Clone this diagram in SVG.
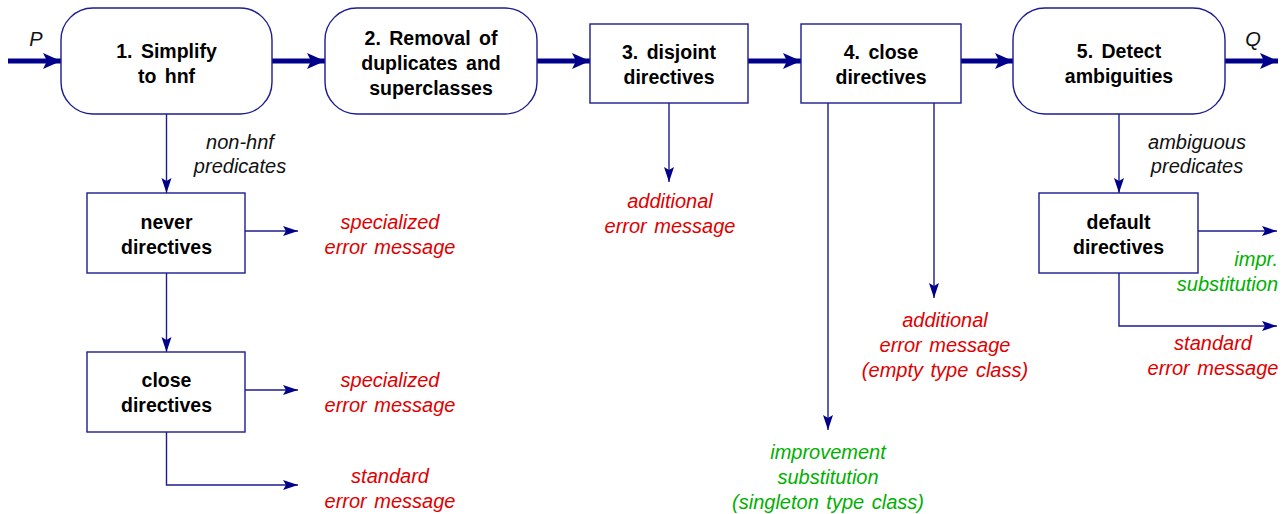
<svg xmlns="http://www.w3.org/2000/svg" width="1285" height="514" viewBox="0 0 1285 514">
<style>
.node{fill:#fff;stroke:#1c1c90;stroke-width:1.4}
.t{font-family:"Liberation Sans",Arial,sans-serif;font-size:19.5px;font-weight:bold;fill:#000;text-anchor:middle;word-spacing:3px}
.i{font-family:"Liberation Sans",Arial,sans-serif;font-size:20px;font-style:italic;text-anchor:middle;word-spacing:2px}
.k{fill:#111}
.r{fill:#e00000}
.g{fill:#00b000}
.thick{fill:none;stroke:#00008b;stroke-width:4.8}
.thin{fill:none;stroke:#1c1c90;stroke-width:1.4}
</style>
<defs>
<marker id="big" markerUnits="userSpaceOnUse" markerWidth="20" markerHeight="18" refX="18" refY="8" orient="auto">
<path d="M0,0 L18,8 L0,16 L4,8 z" fill="#00008b"/>
</marker>
<marker id="sm" markerUnits="userSpaceOnUse" markerWidth="16" markerHeight="12" refX="15" refY="5" orient="auto">
<path d="M0,0 L15,5 L0,10 L3,5 z" fill="#00008b"/>
</marker>
</defs>

<g id="connectors">
<line class="thick" x1="8" y1="61" x2="61" y2="61" marker-end="url(#big)"/>
<line class="thick" x1="272" y1="61" x2="325" y2="61" marker-end="url(#big)"/>
<line class="thick" x1="537" y1="61" x2="590" y2="61" marker-end="url(#big)"/>
<line class="thick" x1="748" y1="61" x2="801" y2="61" marker-end="url(#big)"/>
<line class="thick" x1="961" y1="61" x2="1013" y2="61" marker-end="url(#big)"/>
<line class="thick" x1="1225" y1="61" x2="1278" y2="61" marker-end="url(#big)"/>
<line class="thin" x1="166.5" y1="114" x2="166.5" y2="193" marker-end="url(#sm)"/>
<line class="thin" x1="245" y1="231" x2="298" y2="231" marker-end="url(#sm)"/>
<line class="thin" x1="166.5" y1="273" x2="166.5" y2="352" marker-end="url(#sm)"/>
<line class="thin" x1="245" y1="390" x2="298" y2="390" marker-end="url(#sm)"/>
<polyline class="thin" points="166.5,432 166.5,485 298,485" marker-end="url(#sm)"/>
<line class="thin" x1="669" y1="103" x2="669" y2="182" marker-end="url(#sm)"/>
<line class="thin" x1="828" y1="103" x2="828" y2="430" marker-end="url(#sm)"/>
<line class="thin" x1="934" y1="103" x2="934" y2="298" marker-end="url(#sm)"/>
<line class="thin" x1="1119" y1="114" x2="1119" y2="193" marker-end="url(#sm)"/>
<line class="thin" x1="1198" y1="231" x2="1277" y2="231" marker-end="url(#sm)"/>
<polyline class="thin" points="1119,273 1119,326 1277,326" marker-end="url(#sm)"/>
<text class="i k" x="36" y="46">P</text>
<text class="i k" x="1253" y="46">Q</text>
<text class="i k" x="240" y="149">non-hnf</text>
<text class="i k" x="240" y="173">predicates</text>
<text class="i k" x="1197" y="149">ambiguous</text>
<text class="i k" x="1197" y="173">predicates</text>
</g>

<g id="n1">
<rect class="node" x="61" y="8" width="211" height="106" rx="32"/>
<text class="t" x="166.5" y="58">1. Simplify</text>
<text class="t" x="166.5" y="83">to hnf</text>
</g>
<g id="n2">
<rect class="node" x="325" y="8" width="212" height="106" rx="32"/>
<text class="t" x="431" y="45">2. Removal of</text>
<text class="t" x="431" y="70">duplicates and</text>
<text class="t" x="431" y="95">superclasses</text>
</g>
<g id="n3">
<rect class="node" x="590" y="24" width="158" height="79"/>
<text class="t" x="669" y="59">3. disjoint</text>
<text class="t" x="669" y="84">directives</text>
</g>
<g id="n4">
<rect class="node" x="801" y="24" width="160" height="79"/>
<text class="t" x="881" y="59">4. close</text>
<text class="t" x="881" y="84">directives</text>
</g>
<g id="n5">
<rect class="node" x="1013" y="8" width="212" height="106" rx="32"/>
<text class="t" x="1119" y="58">5. Detect</text>
<text class="t" x="1119" y="83">ambiguities</text>
</g>
<g id="never">
<rect class="node" x="87" y="193" width="158" height="80"/>
<text class="t" x="166.5" y="229">never</text>
<text class="t" x="166.5" y="254">directives</text>
</g>
<g id="close">
<rect class="node" x="87" y="352" width="158" height="80"/>
<text class="t" x="166.5" y="387">close</text>
<text class="t" x="166.5" y="412">directives</text>
</g>
<g id="default">
<rect class="node" x="1039" y="193" width="159" height="80"/>
<text class="t" x="1118.5" y="229">default</text>
<text class="t" x="1118.5" y="254">directives</text>
</g>

<g id="outputs">
<text class="i r" x="390" y="229">specialized</text>
<text class="i r" x="390" y="254">error message</text>
<text class="i r" x="390" y="387">specialized</text>
<text class="i r" x="390" y="412">error message</text>
<text class="i r" x="390" y="483">standard</text>
<text class="i r" x="390" y="508">error message</text>
<text class="i r" x="670" y="208">additional</text>
<text class="i r" x="670" y="233">error message</text>
<text class="i r" x="945" y="327">additional</text>
<text class="i r" x="945" y="352">error message</text>
<text class="i r" x="945" y="377">(empty type class)</text>
<text class="i g" x="828" y="459">improvement</text>
<text class="i g" x="828" y="484">substitution</text>
<text class="i g" x="828" y="509">(singleton type class)</text>
<text class="i g" x="1278" y="266" style="text-anchor:end">impr.</text>
<text class="i g" x="1278" y="291" style="text-anchor:end">substitution</text>
<text class="i r" x="1213" y="350">standard</text>
<text class="i r" x="1213" y="375">error message</text>
</g>
</svg>
